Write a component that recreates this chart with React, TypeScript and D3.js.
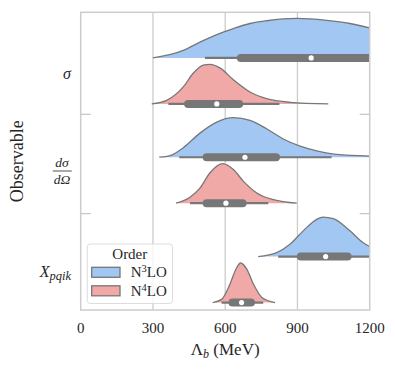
import * as d3 from "d3";
import React from "react";

const xTicks = [0, 300, 600, 900, 1200];
const gridTicks = [300, 600, 900];
const orders = ["N3LO", "N4LO"];
const orderColors = ["#a1c7f2", "#f0a9a6"];

// violin outlines: [Lambda_b in MeV, height relative to widest violin]
const sigmaN3LO = [[300, 0], [426, 0.19], [495, 0.4], [565, 0.59], [634, 0.74], [703, 0.87], [772, 0.94], [897, 1.0], [1021, 0.95], [1118, 0.87], [1200, 0.76]];
const sigmaN4LO = [[295, 0], [357, 0.09], [426, 0.43], [468, 0.78], [509, 0.98], [537, 1.0], [578, 0.91], [634, 0.61], [703, 0.3], [772, 0.13], [869, 0.04], [1028, 0]];
const dsdoN3LO = [[326, 0], [371, 0.04], [426, 0.24], [495, 0.61], [565, 0.89], [634, 1.0], [703, 0.93], [772, 0.72], [841, 0.46], [911, 0.28], [980, 0.16], [1063, 0.07], [1200, 0.03]];
const dsdoN4LO = [[396, 0], [454, 0.15], [495, 0.38], [537, 0.77], [590, 1.0], [634, 0.85], [675, 0.56], [731, 0.26], [800, 0.09], [897, 0]];
const xpqikN3LO = [[737, 0], [814, 0.1], [869, 0.31], [924, 0.65], [980, 0.94], [1005, 1.0], [1049, 0.96], [1118, 0.65], [1173, 0.35], [1201, 0.25]];
const xpqikN4LO = [[548, 0], [585, 0.08], [620, 0.47], [645, 0.85], [664, 1.0], [689, 0.85], [717, 0.47], [752, 0.13], [807, 0]];

// inner box: [whisker low, q1, median, q3, whisker high]
const sigmaN3LOBox = [516, 665, 957, 1240, 1240];
const sigmaN4LOBox = [364, 446, 565, 658, 825];
const dsdoN3LOBox = [409, 523, 682, 811, 1042];
const dsdoN4LOBox = [454, 523, 603, 672, 779];
const xpqikN3LOBox = [820, 914, 1017, 1108, 1240];
const xpqikN4LOBox = [585, 630, 668, 707, 758];

const violins = [
  { cat: 0, hue: 0, shape: sigmaN3LO, box: sigmaN3LOBox },
  { cat: 0, hue: 1, shape: sigmaN4LO, box: sigmaN4LOBox },
  { cat: 1, hue: 0, shape: dsdoN3LO, box: dsdoN3LOBox },
  { cat: 1, hue: 1, shape: dsdoN4LO, box: dsdoN4LOBox },
  { cat: 2, hue: 0, shape: xpqikN3LO, box: xpqikN3LOBox },
  { cat: 2, hue: 1, shape: xpqikN4LO, box: xpqikN4LOBox },
];

const hueOffset = [-0.068, 0.395];

const App = () => {
  const width = 395;
  const height = 370;
  const left = 80.7, right = 369.7, top = 12.3, bottom = 310;
  const font = "Liberation Serif, DejaVu Serif, serif";
  const grid = "#cccccc";
  const edge = "#777777";
  const ink = "#262626";

  const x = d3.scaleLinear().domain([0, 1200]).range([left, right]);
  const y = d3.scaleLinear().domain([-0.527, 2.47]).range([top, bottom]);
  const step = y(1) - y(0);
  const hScale = 0.398 * step;

  return (
    <svg width={width} height={height} style={{ position: "absolute", left: 0, top: 0, background: "#fff", fontFamily: font }}>
      <defs>
        <clipPath id="plot">
          <rect x={left} y={top} width={right - left} height={bottom - top} />
        </clipPath>
      </defs>
      {gridTicks.map(t => (
        <line key={t} x1={x(t)} x2={x(t)} y1={top} y2={bottom} stroke={grid} strokeWidth={1.3} />
      ))}
      <g clipPath="url(#plot)">
        {violins.map((v, i) => {
          const base = y(v.cat + hueOffset[v.hue]);
          const area = d3.area<number[]>()
            .x(d => x(d[0]))
            .y0(base)
            .y1(d => base - d[1] * hScale)
            .curve(d3.curveMonotoneX);
          const outline = d3.line<number[]>()
            .x(d => x(d[0]))
            .y(d => base - d[1] * hScale)
            .curve(d3.curveMonotoneX);
          const [wLo, q1, med, q3, wHi] = v.box;
          return (
            <g key={i}>
              <path d={area(v.shape) || ""} fill={orderColors[v.hue]} />
              <path d={outline(v.shape) || ""} fill="none" stroke={edge} strokeWidth={1.3} />
              <line x1={x(wLo)} x2={x(wHi)} y1={base} y2={base} stroke={edge} strokeWidth={2.2} />
              <line x1={x(q1)} x2={x(q3)} y1={base} y2={base} stroke={edge} strokeWidth={8} strokeLinecap="round" />
              <circle cx={x(med)} cy={base} r={2.6} fill="#fff" />
            </g>
          );
        })}
      </g>
      <rect x={left} y={top} width={right - left} height={bottom - top} fill="none" stroke={grid} strokeWidth={1.5} />
      {[0.5, 1.5].map(t => (
        <g key={t}>
          <line x1={left} x2={left + 10} y1={y(t)} y2={y(t)} stroke="#c4c4c4" strokeWidth={1.2} />
          <line x1={right - 10} x2={right} y1={y(t)} y2={y(t)} stroke="#c4c4c4" strokeWidth={1.2} />
        </g>
      ))}
      {xTicks.map(t => (
        <text key={t} x={x(t)} y={332.5} textAnchor="middle" fontSize={15} fill={ink}>{t}</text>
      ))}
      <text x={(left + right) / 2} y={355} textAnchor="middle" fontSize={17} fill={ink}>
        Λ<tspan fontStyle="italic" fontSize={12} dy={3}>b</tspan>
        <tspan dy={-3}> (MeV)</tspan>
      </text>
      <text transform={`translate(23,${(top + bottom) / 2}) rotate(-90)`} textAnchor="middle" fontSize={18} fill={ink}>Observable</text>

      {/* category labels */}
      <text x={71} y={y(0.1) + 4} textAnchor="end" fontSize={16} fontStyle="italic" fill={ink}>σ</text>
      <text x={62} y={167} textAnchor="middle" fontSize={13.5} fontStyle="italic" fill={ink}>dσ</text>
      <line x1={52.7} x2={71.7} y1={171} y2={171} stroke={ink} strokeWidth={0.8} />
      <text x={62} y={183.5} textAnchor="middle" fontSize={13.5} fontStyle="italic" fill={ink}>dΩ</text>
      <text x={71} y={y(2.09) + 5} textAnchor="end" fontSize={16} fontStyle="italic" fill={ink}>
        X<tspan fontSize={12.5} dy={3}>pqik</tspan>
      </text>

      {/* legend */}
      <rect x={87.3} y={244} width={85.2} height={59.5} rx={3} fill="#fff" fillOpacity={0.8} stroke="#dddddd" strokeWidth={1} />
      <text x={129.8} y={259} textAnchor="middle" fontSize={15} fill={ink}>Order</text>
      {orders.map((o, i) => (
        <g key={o} transform={`translate(0,${i * 18.5})`}>
          <rect x={91.7} y={267.3} width={28.3} height={10} fill={orderColors[i]} stroke={edge} strokeWidth={1.3} />
          <text x={130.7} y={277.3} fontSize={15} fill={ink}>
            N<tspan fontSize={10.5} dy={-5}>{o.charAt(1)}</tspan><tspan dy={5}>LO</tspan>
          </text>
        </g>
      ))}
    </svg>
  );
};

export default App;
